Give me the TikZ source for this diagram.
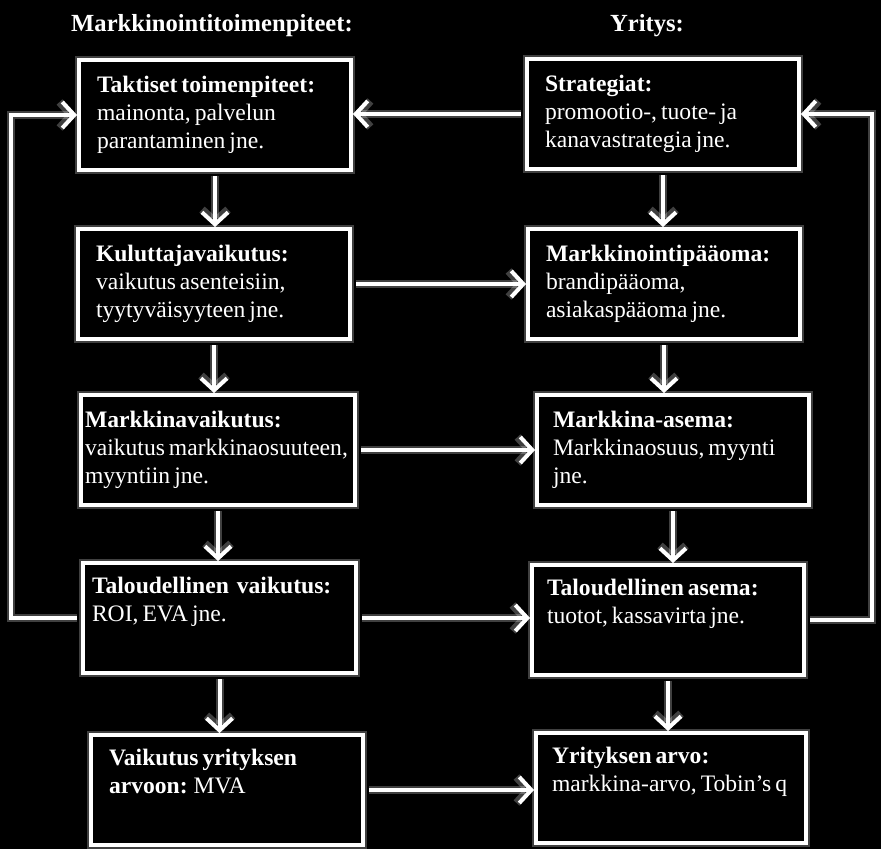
\documentclass[tikz,border=0pt]{standalone}
\usepackage{fontspec}
\setmainfont{Liberation Serif}
\usetikzlibrary{arrows.meta,positioning}

\begin{document}
\begin{tikzpicture}[
    x=1pt, y=-1pt,
    >={Straight Barb[length=12pt,width=26pt]}, % avoimet nuolenkärjet
    glow/.style={preaction={draw=white, draw opacity=0.25, line width=8pt}},
    box/.style={draw=white, line width=4pt, fill=black, text=white, anchor=north west, glow,
        align=flush left, inner xsep=18pt, text width=236pt, minimum height=110pt,
        font=\fontsize{23.6}{28}\selectfont,
        execute at begin node={\spaceskip=0.17em\relax\hyphenpenalty=10000\relax}},
    widebox/.style={box, inner xsep=4pt, text width=266pt},
    head/.style={text=white, font=\fontsize{24.6}{28}\selectfont\bfseries},
    arr/.style={->, draw=white, line width=4pt, shorten <=4pt, glow}
]

    % --- 1. Tausta ---
    \fill[black] (0,0) rectangle (881,849);
    \useasboundingbox (0,0) rectangle (881,849);

    % --- 2. Otsikot ---
    \node[head] (hmark) at (212,26) {Markkinointitoimenpiteet:};
    \node[head] (hyri) at (647,26) {Yritys:};

    % --- 3. Vasen sarake (markkinointitoimenpiteet) ---
    \node[box] (tak) at (77,58) {\textbf{Taktiset toimenpiteet:}\\mainonta, palvelun\\parantaminen jne.};
    \node[box] (kul) at (76,227) {\textbf{Kuluttajavaikutus:}\\vaikutus asenteisiin,\\tyytyväisyyteen jne.};
    \node[widebox] (mv) at (79,393) {\textbf{Markkinavaikutus:}\\vaikutus markkinaosuuteen,\\myyntiin jne.};
    \node[box, inner xsep=9pt, text width=255pt] (tv) at (81,561) {\textbf{Taloudellinen \ vaikutus:}\\ROI, EVA jne.\\\strut};
    \node[box] (vy) at (89,733) {\textbf{Vaikutus yrityksen}\\\textbf{arvoon:} MVA\\\strut};

    % --- 4. Oikea sarake (yritys) ---
    \node[box] (str) at (525,57) {\textbf{Strategiat:}\\promootio-, tuote- ja\\kanavastrategia jne.};
    \node[box] (mp) at (526,227) {\textbf{Markkinointipääoma:}\\brandipääoma,\\asiakaspääoma jne.};
    \node[box, inner xsep=16pt, text width=240pt] (ma) at (535,393) {\textbf{Markkina-asema:}\\Markkinaosuus, myynti\\jne.};
    \node[box, inner xsep=15pt, text width=242pt] (ta) at (530,563) {\textbf{Taloudellinen asema:}\\tuotot, kassavirta jne.\\\strut};
    \node[box, inner xsep=16pt, text width=238pt] (ya) at (534,731) {\textbf{Yrityksen arvo:}\\markkina-arvo, Tobin’s q\\\strut};

    % --- 5. Pystysuuntaiset nuolet ---
    \draw[arr] (tak.south) -- (tak.south |- kul.north);
    \draw[arr] (kul.south) -- (kul.south |- mv.north);
    \draw[arr] (mv.south) -- (mv.south |- tv.north);
    \draw[arr] (tv.south) -- (tv.south |- vy.north);

    \draw[arr] (str.south) -- (str.south |- mp.north);
    \draw[arr] (mp.south) -- (mp.south |- ma.north);
    \draw[arr] (ma.south) -- (ma.south |- ta.north);
    \draw[arr] (ta.south) -- (ta.south |- ya.north);

    % --- 6. Vaakasuuntaiset nuolet ---
    \draw[arr] (str.west) -- (str.west -| tak.east);
    \draw[arr] (kul.east) -- (kul.east -| mp.west);
    \draw[arr] (mv.east) -- (mv.east -| ma.west);
    \draw[arr] (tv.east) -- (tv.east -| ta.west);
    \draw[arr] (vy.east) -- (vy.east -| ya.west);

    % --- 7. Palautesilmukat ---
    \coordinate (lcorner) at (11,0);
    \coordinate (rcorner) at (872,0);
    \draw[arr] (tv.west) -- (tv.west -| lcorner) |- (tak.west);
    \draw[arr] (ta.east) -- (ta.east -| rcorner) |- (str.east);

\end{tikzpicture}
\end{document}
